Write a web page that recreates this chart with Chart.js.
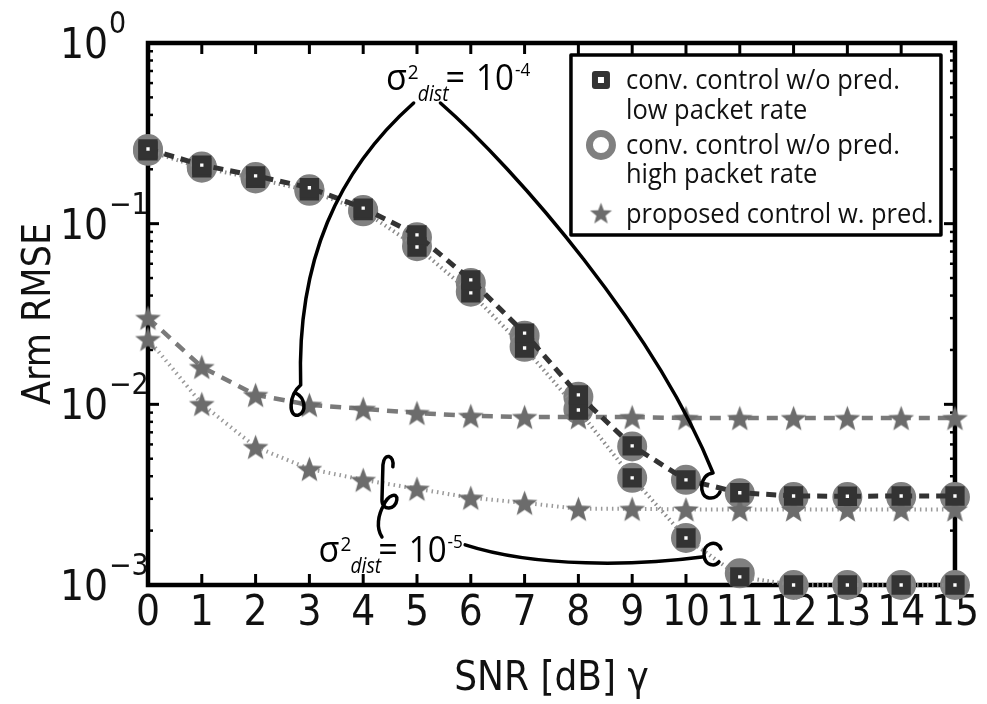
<!DOCTYPE html>
<html>
<head>
<meta charset="utf-8">
<script src="https://cdn.jsdelivr.net/npm/chart.js@4/dist/chart.umd.min.js"></script>
<style>
html,body{margin:0;padding:0;background:#fff;}
#wrap{width:987px;height:704px;position:relative;}
</style>
</head>
<body>
<div id="wrap"><canvas id="c" width="987" height="704"></canvas></div>
<script>
// ---------------- data ----------------
const snr = [0,1,2,3,4,5,6,7,8,9,10,11,12,13,14,15];
const xTickLabels = ['0','1','2','3','4','5','6','7','8','9','10','11','12','13','14','15'];
// conv. control w/o pred., low packet rate
const convLowPkt_dist4 = [0.259,0.211,0.184,0.158,0.122,0.0866,0.0488,0.0248,0.01127,0.00589,0.00382,0.00324,0.00311,0.00310,0.00311,0.00311];
const convLowPkt_dist5 = [0.253,0.204,0.178,0.152,0.118,0.0743,0.0414,0.0205,0.0093,0.00392,0.00182,0.00111,0.00100,0.00100,0.00100,0.00100];
// conv. control w/o pred., high packet rate
const convHighPkt_dist4 = [0.259,0.207,0.181,0.155,0.119,0.0840,0.0470,0.0240,0.0110,0.00585,0.00382,0.00322,0.00307,0.00307,0.00307,0.00307];
const convHighPkt_dist5 = [0.253,0.204,0.178,0.152,0.117,0.0750,0.0420,0.0208,0.0094,0.00392,0.00182,0.00116,0.00100,0.00100,0.00100,0.00100];
// proposed control w. pred.
const proposed_dist4 = [0.0301,0.0161,0.01127,0.00993,0.00944,0.00896,0.00863,0.00851,0.0085,0.0085,0.0084,0.0084,0.0084,0.0084,0.0084,0.0084];
const proposed_dist5 = [0.0230,0.01005,0.00581,0.00439,0.00382,0.00341,0.00304,0.00285,0.00264,0.00264,0.00262,0.00262,0.00262,0.00262,0.00262,0.00262];
const yTickValues = [1e-3,1e-2,1e-1,1];
const yTickExponents = ['\u22123','\u22122','\u22121','0'];
const legendLabels = [['conv. control w/o pred.','low packet rate'],['conv. control w/o pred.','high packet rate'],['proposed control w. pred.']];
const yTitle = 'Arm RMSE';
const xTitle = 'SNR [dB] \u03b3';

// ---------------- styles ----------------
const NARROW = "'Liberation Sans Narrow','DejaVu Sans Condensed','Open Sans',sans-serif";
const SANS = "'Open Sans','Liberation Sans',sans-serif";
const SQ_COL = '#333333', CIRC_COL = '#808080', STAR_COL = '#6c6c6c';

function makeStar(R, color) {
  const s = Math.ceil(R * 2 + 2);
  const c = document.createElement('canvas');
  c.width = s; c.height = s;
  const g = c.getContext('2d');
  g.fillStyle = color;
  g.beginPath();
  const cy = s / 2 + R * 0.1;
  for (let i = 0; i < 10; i++) {
    const r = i % 2 ? R * 0.42 : R;
    const a = -Math.PI / 2 + i * Math.PI / 5;
    g.lineTo(s / 2 + r * Math.cos(a), cy + r * Math.sin(a));
  }
  g.closePath(); g.fill();
  return c;
}
const starImg = makeStar(13.5, STAR_COL);

const pts = arr => arr.map((v, i) => ({x: snr[i], y: v}));

const squareStyle = {pointStyle: 'rect', pointRadius: 8, pointBorderWidth: 8, pointBorderColor: SQ_COL, pointBackgroundColor: '#ffffff'};
const circleStyle = {pointStyle: 'circle', pointRadius: 14, pointBorderWidth: 2, pointBorderColor: CIRC_COL, pointBackgroundColor: CIRC_COL};
const starStyle = {pointStyle: starImg, pointRadius: 13};

const datasets = [
  Object.assign({label: 'conv low dist4', data: pts(convLowPkt_dist4), borderColor: SQ_COL, borderWidth: 5, borderDash: [10, 7]}, squareStyle),
  Object.assign({label: 'conv low dist5', data: pts(convLowPkt_dist5), borderColor: '#8a8a8a', borderWidth: 4, borderDash: [1.5, 3.5]}, squareStyle),
  Object.assign({label: 'proposed dist4', data: pts(proposed_dist4), borderColor: '#7a7a7a', borderWidth: 4.5, borderDash: [11, 8]}, starStyle),
  Object.assign({label: 'proposed dist5', data: pts(proposed_dist5), borderColor: '#9a9a9a', borderWidth: 4, borderDash: [1.5, 4]}, starStyle),
  Object.assign({label: 'conv high dist4', data: pts(convHighPkt_dist4), showLine: false}, circleStyle),
  Object.assign({label: 'conv high dist5', data: pts(convHighPkt_dist5), showLine: false}, circleStyle)
].map(d => Object.assign({clip: false, tension: 0, fill: false}, d));

// ---------------- helpers ----------------
function fitText(ctx, text, x, y, font, sx, align) {
  ctx.save();
  ctx.font = font;
  ctx.textAlign = 'left';
  const w = ctx.measureText(text).width * sx;
  let x0 = x;
  if (align === 'right') x0 = x - w;
  else if (align === 'center') x0 = x - w / 2;
  ctx.translate(x0, y);
  ctx.scale(sx, 1);
  ctx.fillText(text, 0, 0);
  ctx.restore();
  return w;
}

// annotation geometry in data units: [snr, log10(RMSE)]
const annoCurves = [
  [[4.938,-0.332],[3.538,-0.703],[2.764,-1.201],[2.838,-1.893], [2.617,-1.948],[2.598,-2.075],[2.801,-2.059], [2.948,-2.042],[2.930,-1.965],[2.746,-1.937]],
  [[5.436,-0.332],[6.855,-0.703],[9.434,-1.588],[10.503,-2.380], [10.245,-2.385],[10.227,-2.512],[10.429,-2.518], [10.540,-2.524],[10.613,-2.501],[10.632,-2.485]],
  [[5.896,-2.778],[7.223,-2.905],[9.066,-2.894],[10.337,-2.844]],
  [[10.650,-2.800],[10.577,-2.745],[10.300,-2.767],[10.337,-2.839],[10.356,-2.894],[10.540,-2.900],[10.613,-2.872]],
  [[4.551,-2.346],[4.588,-2.280],[4.385,-2.263],[4.367,-2.335], [4.349,-2.529],[4.349,-2.529],[4.349,-2.529], [4.349,-2.595],[4.607,-2.584],[4.625,-2.529], [4.643,-2.485],[4.459,-2.501],[4.385,-2.557], [4.275,-2.612],[4.238,-2.684],[4.349,-2.734]]
];
const annoTexts = [
  {at: [4.422, -0.260], exp: '-4'},
  {at: [3.169, -2.872], exp: '-5'}
];

const framePlugin = {
  id: 'frame',
  beforeDatasetsDraw(chart) {
    const {ctx, chartArea: a, scales: {x, y}} = chart;
    ctx.save();
    ctx.strokeStyle = '#000';
    ctx.lineCap = 'butt';
    const seg = (x1, y1, x2, y2) => { ctx.beginPath(); ctx.moveTo(x1, y1); ctx.lineTo(x2, y2); ctx.stroke(); };
    ctx.lineWidth = 3;
    snr.forEach(v => {
      const px = x.getPixelForValue(v);
      seg(px, a.bottom, px, a.bottom - 11);
      seg(px, a.top, px, a.top + 11);
    });
    for (let e = -3; e < 0; e++) {
      for (let m = 1; m <= 9; m++) {
        const py = y.getPixelForValue(m * Math.pow(10, e));
        const len = m === 1 ? 11 : 5;
        ctx.lineWidth = m === 1 ? 3 : 2.5;
        seg(a.left, py, a.left + len, py);
        seg(a.right, py, a.right - len, py);
      }
    }
    ctx.lineWidth = 4.5;
    ctx.strokeRect(a.left, a.top, a.width, a.height);
    ctx.restore();
  },
  afterDraw(chart) {
    const {ctx, chartArea: a, scales: {x, y}} = chart;
    const P = (xv, ly) => [x.getPixelForValue(xv), y.getPixelForValue(Math.pow(10, ly))];
    ctx.save();
    ctx.fillStyle = '#111';
    ctx.textBaseline = 'alphabetic';
    // y tick labels 10^n
    yTickValues.forEach((v, i) => {
      const py = y.getPixelForValue(v);
      fitText(ctx, '10', a.left - 40, py + 15, '42px ' + NARROW, 1, 'right');
      fitText(ctx, yTickExponents[i], a.left - 39, py - 10, '30px ' + NARROW, 1, 'left');
    });
    // annotation curves
    ctx.strokeStyle = '#000';
    ctx.lineWidth = 3.5;
    ctx.lineCap = 'round';
    ctx.lineJoin = 'round';
    annoCurves.forEach(c => {
      const p = c.map(q => P(q[0], q[1]));
      ctx.beginPath();
      ctx.moveTo(p[0][0], p[0][1]);
      for (let i = 1; i + 2 < p.length; i += 3) {
        ctx.bezierCurveTo(p[i][0], p[i][1], p[i+1][0], p[i+1][1], p[i+2][0], p[i+2][1]);
      }
      ctx.stroke();
    });
    // annotation texts
    ctx.fillStyle = '#000';
    annoTexts.forEach(t => {
      const [bx, by] = P(t.at[0], t.at[1]);
      let cx = bx;
      cx += fitText(ctx, '\u03c3', cx, by, '36px ' + SANS, 0.95, 'left');
      fitText(ctx, '2', cx + 1, by - 11, '20px ' + SANS, 0.95, 'left');
      const wd = fitText(ctx, 'dist', cx + 11, by + 11, 'italic 21px ' + SANS, 0.92, 'left');
      cx += 11 + wd - 3;
      cx += fitText(ctx, '=', cx, by, '36px ' + SANS, 0.95, 'left') + 11;
      cx += fitText(ctx, '10', cx, by, '36px ' + SANS, 0.92, 'left');
      fitText(ctx, t.exp, cx + 1, by - 14, '18px ' + SANS, 0.95, 'left');
    });
    // legend
    const bw = 370, bh = 180;
    const lx = a.right - 384, ly = a.top + 12;
    ctx.fillStyle = '#fff';
    ctx.fillRect(lx, ly, bw, bh);
    ctx.strokeStyle = '#000';
    ctx.lineWidth = 3.5;
    ctx.strokeRect(lx, ly, bw, bh);
    const mx = lx + 30, tx = lx + 55;
    ctx.strokeStyle = SQ_COL; ctx.lineWidth = 6;
    ctx.strokeRect(mx - 6, ly + 25 - 6, 12, 12);
    ctx.strokeStyle = CIRC_COL; ctx.lineWidth = 7;
    ctx.beginPath(); ctx.arc(mx, ly + 90, 11.5, 0, Math.PI * 2); ctx.stroke();
    ctx.drawImage(makeStar(11.5, STAR_COL), mx - 12.5, ly + 158 - 12.5);
    ctx.fillStyle = '#111';
    const lf = '28px ' + SANS;
    const rows = [ly + 34, ly + 64, ly + 99, ly + 128, ly + 168];
    fitText(ctx, legendLabels[0][0], tx, rows[0], lf, 0.91, 'left');
    fitText(ctx, legendLabels[0][1], tx, rows[1], lf, 0.91, 'left');
    fitText(ctx, legendLabels[1][0], tx, rows[2], lf, 0.91, 'left');
    fitText(ctx, legendLabels[1][1], tx, rows[3], lf, 0.91, 'left');
    fitText(ctx, legendLabels[2][0], tx, rows[4], lf, 0.91, 'left');
    ctx.restore();
  }
};

new Chart(document.getElementById('c'), {
  type: 'line',
  data: {datasets},
  options: {
    responsive: false,
    animation: false,
    events: [],
    layout: {padding: {left: 0, top: 43, right: 25, bottom: 0}},
    plugins: {legend: {display: false}, tooltip: {enabled: false}},
    scales: {
      x: {
        type: 'linear', min: 0, max: 15,
        grid: {display: false, drawTicks: false},
        border: {display: false},
        ticks: {stepSize: 1, autoSkip: false, maxRotation: 0, padding: 8, color: '#111',
          font: {family: NARROW, size: 42, lineHeight: 1},
          callback: v => xTickLabels[v]},
        title: {display: true, text: xTitle, color: '#111', font: {family: NARROW, size: 40, lineHeight: 1.2}, padding: {top: 0, bottom: 0}},
        afterFit: s => { s.height = 119; }
      },
      y: {
        type: 'logarithmic', min: 1e-3, max: 1,
        grid: {display: false, drawTicks: false},
        border: {display: false},
        ticks: {display: false},
        title: {display: true, text: yTitle, color: '#111', font: {family: NARROW, size: 39, lineHeight: 1.2}, padding: {top: 16, bottom: 0}},
        afterFit: s => { s.width = 148; }
      }
    }
  },
  plugins: [framePlugin]
});
</script>
</body>
</html>
